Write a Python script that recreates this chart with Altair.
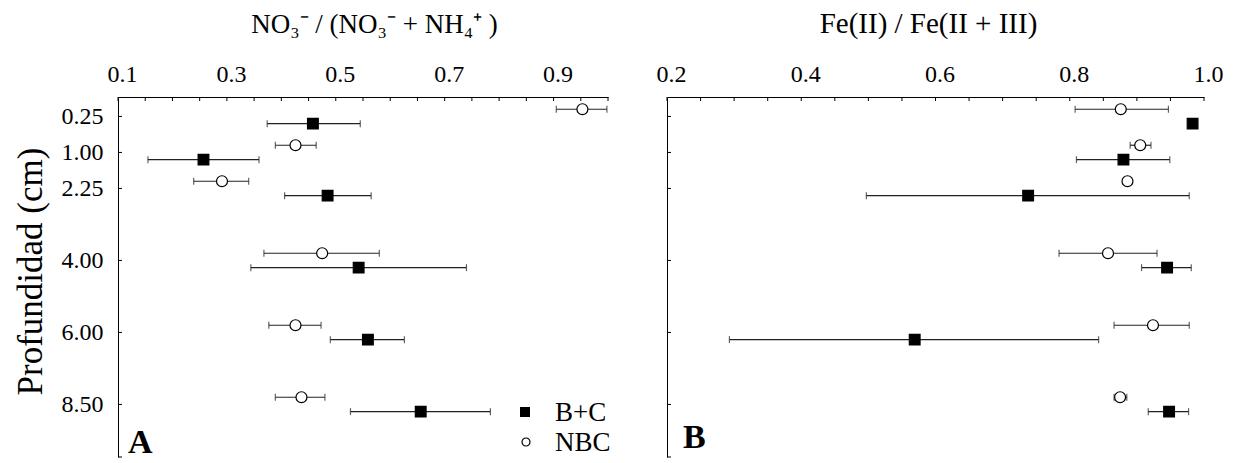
import altair as alt
import pandas as pd

# ---------------- data ----------------
DEPTH_LABELS = ["0.25", "1.00", "2.25", "4.00", "6.00", "8.50"]
DEPTH_POS = [0, 1, 2, 4, 6, 8]          # vertical slot of each depth on the axis
SERIES = ["B+C", "NBC"]
SERIES_SHIFT = {"B+C": 0.2, "NBC": -0.2}  # the two series are drawn side by side

# Panel A : NO3- / (NO3- + NH4+)
NO3_BC = [0.458, 0.257, 0.485, 0.542, 0.559, 0.656]
NO3_BC_LO = [0.374, 0.155, 0.406, 0.344, 0.490, 0.527]
NO3_BC_HI = [0.545, 0.359, 0.565, 0.740, 0.626, 0.784]
NO3_NBC = [0.953, 0.426, 0.291, 0.475, 0.426, 0.437]
NO3_NBC_LO = [0.905, 0.389, 0.239, 0.368, 0.377, 0.389]
NO3_NBC_HI = [0.998, 0.464, 0.340, 0.580, 0.473, 0.480]

# Panel B : Fe(II) / Fe(II + III)
FE_BC = [0.983, 0.880, 0.738, 0.945, 0.569, 0.948]
FE_BC_LO = [0.983, 0.810, 0.497, 0.907, 0.293, 0.917]
FE_BC_HI = [0.983, 0.949, 0.978, 0.981, 0.843, 0.977]
FE_NBC = [0.876, 0.905, 0.886, 0.857, 0.924, 0.875]
FE_NBC_LO = [0.808, 0.890, 0.880, 0.784, 0.866, 0.866]
FE_NBC_HI = [0.947, 0.921, 0.892, 0.930, 0.978, 0.885]

TICKS_A = [round(0.10 + 0.05 * i, 2) for i in range(19)]
TICKS_B = [round(0.20 + 0.05 * i, 2) for i in range(17)]
LABELS_A = [0.1, 0.3, 0.5, 0.7, 0.9]
LABELS_B = [0.2, 0.4, 0.6, 0.8, 1.0]

TITLE_A = "NO\u2083\u207B / (NO\u2083\u207B + NH\u2084\u207A )"
TITLE_B = "Fe(II) / Fe(II + III)"
TITLE_Y = "Profundidad (cm)"

FONT = "Liberation Serif"


def build(bc, bclo, bchi, nbc, nlo, nhi):
    rows = []
    for s, v, lo, hi in (("B+C", bc, bclo, bchi), ("NBC", nbc, nlo, nhi)):
        for i in range(len(DEPTH_LABELS)):
            rows.append({
                "series": s,
                "depth": DEPTH_LABELS[i],
                "pos": DEPTH_POS[i] + SERIES_SHIFT[s],
                "value": v[i], "lo": lo[i], "hi": hi[i],
            })
    return pd.DataFrame(rows)


dfA = build(NO3_BC, NO3_BC_LO, NO3_BC_HI, NO3_NBC, NO3_NBC_LO, NO3_NBC_HI)
dfB = build(FE_BC, FE_BC_LO, FE_BC_HI, FE_NBC, FE_NBC_LO, FE_NBC_HI)

label_expr = ""
for p, l in zip(DEPTH_POS, DEPTH_LABELS):
    label_expr += f"datum.value == {p} ? '{l}' : "
label_expr += "''"

YDOM = [-0.54, 9.46]
H = 360


def panel(df, dom, width, ticks, labels, title, title_size, title_x,
          letter, letter_x, letter_y, show_y, legend):
    xscale = alt.Scale(domain=dom, nice=False, zero=False)
    yscale = alt.Scale(domain=YDOM, reverse=True, nice=False, zero=False)
    xaxis = alt.Axis(orient="top", values=labels, format=".1f", ticks=False, tickSize=0,
                     grid=False, domain=True, domainColor="black", domainWidth=1,
                     labelFont=FONT, labelFontSize=24, labelColor="black", labelPadding=11,
                     labelFlush=False, labelOffset=4,
                     title=title, titleFont=FONT, titleFontSize=title_size,
                     titleFontWeight="normal", titleColor="black", titlePadding=24,
                     titleX=title_x)
    if show_y:
        yaxis = alt.Axis(orient="left", values=DEPTH_POS, labelExpr=label_expr, ticks=False,
                         tickSize=0, grid=False, domain=True, domainColor="black", domainWidth=1,
                         labelFont=FONT, labelFontSize=24, labelColor="black", labelPadding=15,
                         labelFlush=False,
                         title=TITLE_Y, titleFont=FONT, titleFontSize=35,
                         titleFontWeight="normal", titleColor="black", titlePadding=13,
                         titleY=174)
    else:
        yaxis = alt.Axis(orient="left", values=DEPTH_POS, labels=False, ticks=False, tickSize=0,
                         grid=False, domain=True, domainColor="black", domainWidth=1, title=None)

    def X(f):
        return alt.X(f, type="quantitative", scale=xscale, axis=xaxis)

    def Y(f):
        return alt.Y(f, type="quantitative", scale=yscale, axis=yaxis)

    base = alt.Chart(df)
    err = base.mark_rule(color="#222", strokeWidth=1.2).encode(x=X("lo"), x2="hi", y=Y("pos"))
    cap_lo = base.mark_tick(orient="vertical", size=7, thickness=1.2, color="#222").encode(
        x=X("lo"), y=Y("pos"))
    cap_hi = base.mark_tick(orient="vertical", size=7, thickness=1.2, color="#222").encode(
        x=X("hi"), y=Y("pos"))
    pts = base.mark_point(filled=True, stroke="black", strokeWidth=1.2, opacity=1).encode(
        x=X("value"), y=Y("pos"),
        shape=alt.Shape("series:N", scale=alt.Scale(domain=SERIES, range=["square", "circle"]),
                        legend=None),
        fill=alt.Fill("series:N", scale=alt.Scale(domain=SERIES, range=["black", "white"]),
                      legend=None),
        size=alt.Size("series:N", scale=alt.Scale(domain=SERIES, range=[115, 120]), legend=None),
    )
    xt = alt.Chart(pd.DataFrame({"t": ticks})).mark_rule(color="black", strokeWidth=1).encode(
        x=X("t"), y=alt.value(0), y2=alt.value(4))
    yt = alt.Chart(pd.DataFrame({"t": DEPTH_POS + [YDOM[1]]})).mark_rule(
        color="black", strokeWidth=1).encode(y=Y("t"), x=alt.value(0), x2=alt.value(4))
    let = alt.Chart(pd.DataFrame({"l": [letter]})).mark_text(
        font=FONT, fontSize=34, fontWeight="bold", align="left", baseline="alphabetic",
        color="black").encode(text="l:N", x=alt.value(letter_x), y=alt.value(letter_y))
    layers = [err, cap_lo, cap_hi, xt, yt, pts, let]
    if legend:
        sq = alt.Chart(pd.DataFrame({"s": [SERIES[0]]})).mark_point(
            shape="square", filled=True, color="black", size=100, opacity=1).encode(
            x=alt.value(407), y=alt.value(315))
        ci = alt.Chart(pd.DataFrame({"s": [SERIES[1]]})).mark_point(
            shape="circle", filled=True, fill="white", stroke="black", strokeWidth=1.2,
            size=64, opacity=1).encode(x=alt.value(408), y=alt.value(345))
        t1 = alt.Chart(pd.DataFrame({"s": [SERIES[0]]})).mark_text(
            font=FONT, fontSize=27, align="left", baseline="alphabetic", color="black").encode(
            text="s:N", x=alt.value(437), y=alt.value(324))
        t2 = alt.Chart(pd.DataFrame({"s": [SERIES[1]]})).mark_text(
            font=FONT, fontSize=27, align="left", baseline="alphabetic", color="black").encode(
            text="s:N", x=alt.value(437), y=alt.value(354))
        layers += [sq, ci, t1, t2]
    return alt.layer(*layers).properties(width=width, height=H)


pA = panel(dfA, [0.1, 1.0], 490, TICKS_A, LABELS_A, TITLE_A, 27, 256,
           "A", 10, 356, True, True)
pB = panel(dfB, [0.2, 1.0], 537, TICKS_B, LABELS_B, TITLE_B, 29, 261,
           "B", 16, 351, False, False)

chart = alt.hconcat(pA, pB, spacing=45).configure_view(stroke=None).properties(
    padding={"left": 13, "top": 9, "right": 0, "bottom": 0},
    background="white",
)

chart.save("out.html", embed_options={"renderer": "svg", "actions": False})
